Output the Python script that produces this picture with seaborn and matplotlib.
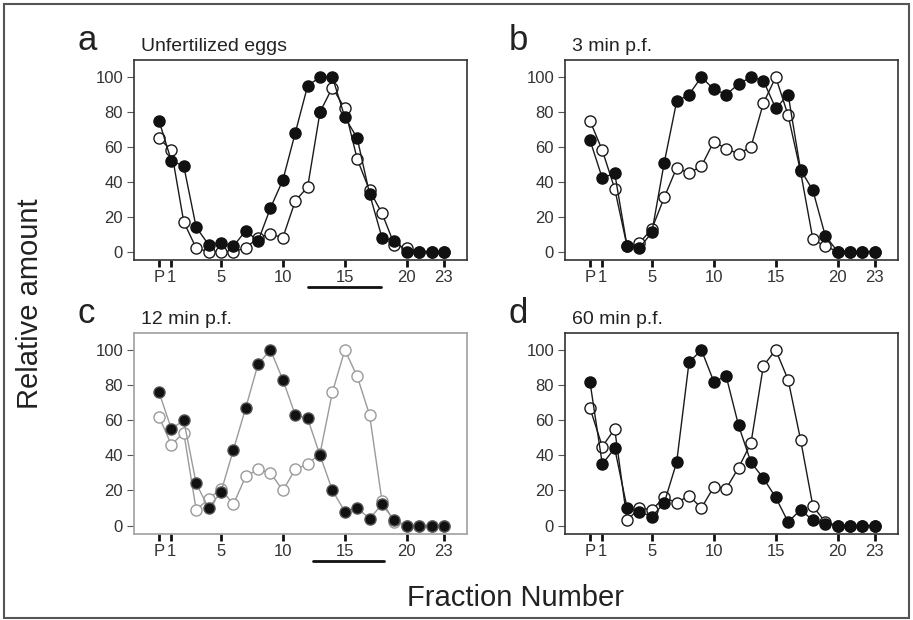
import matplotlib
matplotlib.use('Agg')
import matplotlib.pyplot as plt
import matplotlib.transforms as mtransforms
from matplotlib.patches import Rectangle
import seaborn as sns

# x positions: 0 = P (pellet), then fractions 1..23
fractions = list(range(24))
xtick_pos = [0, 1, 5, 10, 15, 20, 23]
xtick_labels = ['P', '1', '5', '10', '15', '20', '23']
yticks = [0, 20, 40, 60, 80, 100]

letters = ['a', 'b', 'c', 'd']
titles = ['Unfertilized eggs', '3 min p.f.', '12 min p.f.', '60 min p.f.']

filled_a = [75, 52, 49, 14, 4, 5, 3, 12, 6, 25, 41, 68, 95, 100, 100, 77, 65, 33, 8, 6, 0, 0, 0, 0]
open_a = [65, 58, 17, 2, 0, 0, 0, 2, 8, 10, 8, 29, 37, 80, 94, 82, 53, 35, 22, 4, 2, 0, 0, 0]

filled_b = [64, 42, 45, 3, 2, 11, 51, 86, 90, 100, 93, 90, 96, 100, 98, 82, 90, 47, 35, 9, 0, 0, 0, 0]
open_b = [75, 58, 36, 3, 5, 13, 31, 48, 45, 49, 63, 59, 56, 60, 85, 100, 78, 46, 7, 3, 0, 0, 0, 0]

filled_c = [76, 55, 60, 24, 10, 19, 43, 67, 92, 100, 83, 63, 61, 40, 20, 8, 10, 4, 12, 3, 0, 0, 0, 0]
open_c = [62, 46, 53, 9, 15, 21, 12, 28, 32, 30, 20, 32, 35, 41, 76, 100, 85, 63, 14, 2, 0, 0, 0, 0]

filled_d = [82, 35, 44, 10, 8, 5, 13, 36, 93, 100, 82, 85, 57, 36, 27, 16, 2, 9, 3, 1, 0, 0, 0, 0]
open_d = [67, 45, 55, 3, 10, 9, 16, 13, 17, 10, 22, 21, 33, 47, 91, 100, 83, 49, 11, 2, 0, 0, 0, 0]

filled = [filled_a, filled_b, filled_c, filled_d]
opened = [open_a, open_b, open_c, open_d]

# points of the open series that are printed black in the original (panel a, fraction 13)
open_black = [[13], [], [], []]

# black bars under panels a and c (fraction range)
bar_a = [12.0, 17.9]
bar_c = [12.4, 18.2]
bars = [bar_a, None, bar_c, None]

sns.set_style('white')
plt.rcParams['font.family'] = ['Liberation Sans', 'DejaVu Sans']

fig = plt.figure(figsize=(9.13, 6.2), dpi=100)

# axes boxes in figure fractions: left, bottom, width, height
boxes = [
    [0.147, 0.581, 0.365, 0.322],
    [0.619, 0.581, 0.365, 0.322],
    [0.147, 0.139, 0.365, 0.324],
    [0.619, 0.139, 0.365, 0.324],
]

for i in range(4):
    ax = fig.add_axes(boxes[i])
    grey = (i == 2)
    line_col = '#9a9a9a' if grey else '#1a1a1a'
    spine_col = '#a0a0a0' if grey else '#333333'

    sns.lineplot(x=fractions, y=opened[i], ax=ax, color=line_col, lw=1.0,
                 marker='o', markersize=8, markerfacecolor='white',
                 markeredgecolor=line_col, markeredgewidth=1.0,
                 estimator=None, legend=False, zorder=3)
    if open_black[i]:
        sns.scatterplot(x=open_black[i], y=[opened[i][k] for k in open_black[i]],
                        ax=ax, color='#111111', s=64, edgecolor='#111111',
                        linewidth=1.0, legend=False, zorder=3.5)
    sns.lineplot(x=fractions, y=filled[i], ax=ax, color=line_col, lw=1.0,
                 marker='o', markersize=8, markerfacecolor='#111111',
                 markeredgecolor='#111111' if not grey else '#555555',
                 markeredgewidth=1.0, estimator=None, legend=False, zorder=4)

    ax.set_xlim(-2.0, 24.9)
    ax.set_ylim(-4.7, 109.7)
    ax.set_xticks(xtick_pos)
    ax.set_xticklabels(xtick_labels)
    ax.set_yticks(yticks)
    ax.set_xlabel('')
    ax.set_ylabel('')
    for s in ax.spines.values():
        s.set_visible(True)
        s.set_color(spine_col)
        s.set_linewidth(1.2)
    ax.tick_params(axis='x', direction='out', length=5, width=2.0, color='#111111',
                   labelsize=12, labelcolor='#333333', pad=2, bottom=True)
    ax.tick_params(axis='y', direction='out', length=5, width=0.8, color='#555555',
                   labelsize=12, labelcolor='#333333', pad=3, left=True)

    # panel letter and title
    ax.text(-0.17, 1.015, letters[i], transform=ax.transAxes, fontsize=25,
            color='#222222', ha='left', va='bottom')
    ax.text(0.02, 1.025, titles[i], transform=ax.transAxes, fontsize=14,
            color='#222222', ha='left', va='bottom')

    if bars[i] is not None:
        trans = mtransforms.blended_transform_factory(ax.transData, ax.transAxes)
        ax.plot(bars[i], [-0.135, -0.135], color='#111111', lw=2.0,
                transform=trans, clip_on=False)

fig.text(0.033, 0.51, 'Relative amount', rotation=90, fontsize=21,
         ha='center', va='center', color='#222222')
fig.text(0.565, 0.035, 'Fraction Number', fontsize=21,
         ha='center', va='center', color='#222222')

# frame around the whole figure
fig.patches.append(Rectangle((0.004, 0.004), 0.992, 0.99, transform=fig.transFigure,
                             fill=False, edgecolor='#555555', linewidth=1.5))

fig.savefig('out.png', dpi=100)
